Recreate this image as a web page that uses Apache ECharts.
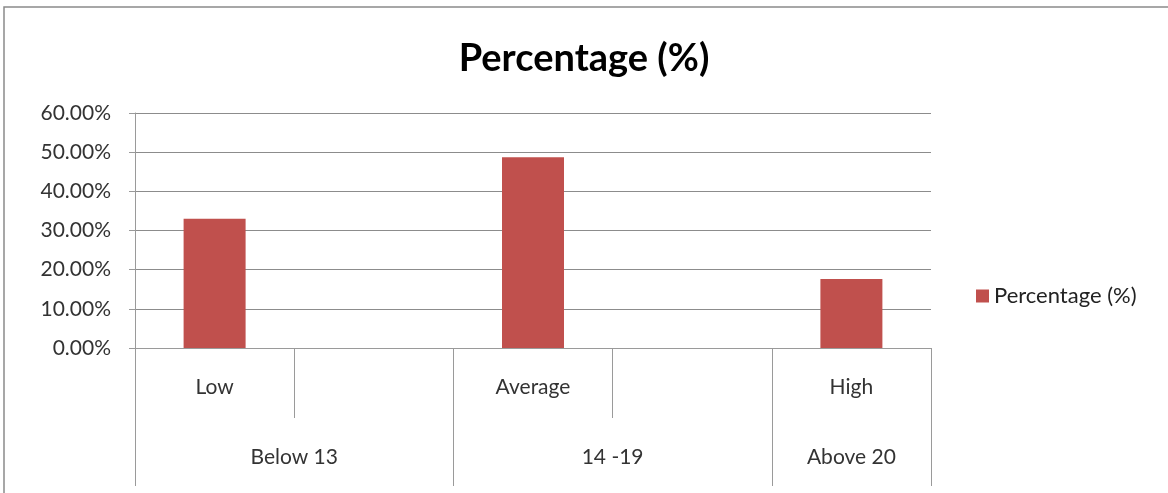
<!DOCTYPE html>
<html>
<head>
<meta charset="utf-8">
<script src="https://cdn.jsdelivr.net/npm/echarts@6/dist/echarts.min.js"></script>
<style>
  html, body { margin: 0; padding: 0; background: #fff; }
  #chart { width: 1168px; height: 493px; }
</style>
</head>
<body>
<div id="chart"></div>
<script>
    // data
    var levels = ['Low', '', 'Average', '', 'High'];
    var values = [33.0, 0, 48.7, 0, 17.6];
    var groups = ['Below 13', '14 -19', 'Above 20'];
    var groupSpans = [2, 2, 1];
    var yTicks = [0, 10, 20, 30, 40, 50, 60];

    // group boundaries and label centres on a 0..5 value scale
    var groupEdges = [0], groupMids = [];
    var pos = 0;
    groupSpans.forEach(function (n) {
        groupMids.push(pos + n / 2);
        pos += n;
        groupEdges.push(pos);
    });

    var font = 'Lato, "Open Sans", sans-serif';
    var lineColor = '#9a9a9a';

    var chart = echarts.init(document.getElementById('chart'));
    chart.setOption({
        animation: false,
        title: {
            text: 'Percentage (%)',
            left: 'center',
            top: 35,
            textStyle: { fontFamily: font, fontSize: 38, fontWeight: 'bold', color: '#000' }
        },
        legend: {
            data: ['Percentage (%)'],
            left: 971,
            top: 280,
            icon: 'rect',
            itemWidth: 13,
            itemHeight: 13,
            itemGap: 8,
            textStyle: { fontFamily: font, fontSize: 22, color: '#222' }
        },
        graphic: [{
            type: 'rect',
            shape: { x: 4, y: 7, width: 1180, height: 500 },
            style: { fill: 'none', stroke: '#8a8a8a', lineWidth: 1.5 },
            silent: true
        }],
        grid: { left: 135, right: 237, top: 113, bottom: 145 },
        xAxis: [{
            type: 'category',
            data: levels,
            axisLine: { lineStyle: { color: lineColor } },
            axisTick: { show: true, interval: 0, length: 70, lineStyle: { color: lineColor } },
            axisLabel: { interval: 0, margin: 29, fontFamily: font, fontSize: 21, color: '#333' }
        }, {
            type: 'value',
            min: 0,
            max: levels.length,
            position: 'bottom',
            axisLine: { show: false },
            splitLine: { show: false },
            axisTick: { show: true, customValues: groupEdges, length: 138, lineStyle: { color: lineColor } },
            axisLabel: {
                customValues: groupMids,
                margin: 99,
                fontFamily: font, fontSize: 21, color: '#333',
                formatter: function (v) {
                    var i = groupMids.indexOf(v);
                    return i >= 0 ? groups[i] : '';
                }
            }
        }],
        yAxis: {
            type: 'value',
            min: yTicks[0],
            max: yTicks[yTicks.length - 1],
            interval: 10,
            axisLine: { show: true, lineStyle: { color: lineColor } },
            axisTick: { show: true, length: 6, lineStyle: { color: lineColor } },
            splitLine: { lineStyle: { color: '#8c8c8c' } },
            axisLabel: {
                margin: 24,
                fontFamily: font, fontSize: 21, color: '#333',
                formatter: function (v) { return v.toFixed(2) + '%'; }
            }
        },
        series: [{
            name: 'Percentage (%)',
            type: 'bar',
            data: values,
            barWidth: 62,
            itemStyle: { color: '#C0504D' }
        }]
    });
</script>
</body>
</html>
